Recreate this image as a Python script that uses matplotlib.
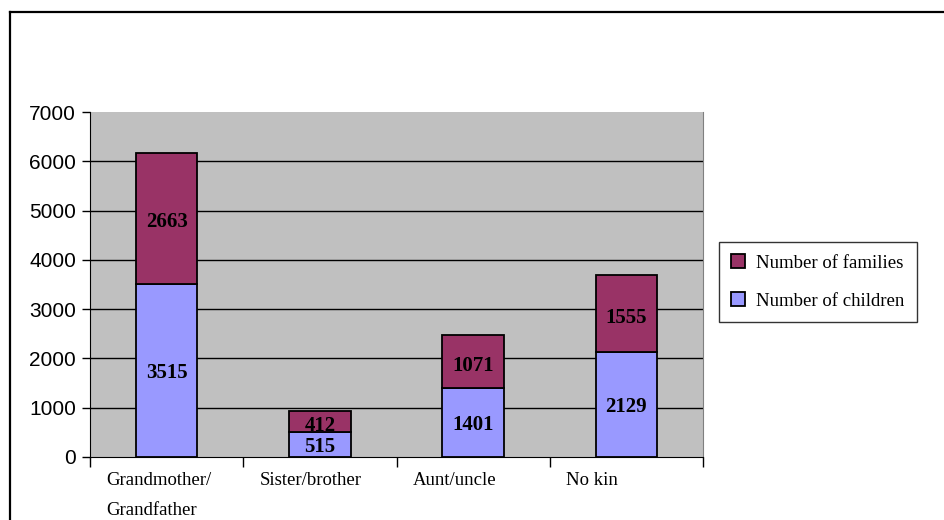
import matplotlib.pyplot as plt
import numpy as np

categories = ["Grandmother/\nGrandfather", "Sister/brother", "Aunt/uncle", "No kin"]
children = [3515, 515, 1401, 2129]
families = [2663, 412, 1071, 1555]
yticks = list(range(0, 7001, 1000))

fig = plt.figure(figsize=(9.44, 5.2), dpi=100)
# outer chart frame (clipped at right/bottom like the original)
fig.add_artist(plt.Line2D([9.5 / 944, 1.0], [1 - 12 / 520] * 2, color="black", lw=1.6))
fig.add_artist(plt.Line2D([9.5 / 944] * 2, [0, 1 - 12 / 520], color="black", lw=1.6))

ax = fig.add_axes([90 / 944, 1 - 457 / 520, 613 / 944, 345 / 520])
ax.set_facecolor("#c0c0c0")

x = np.arange(len(categories))
w = 0.4
b1 = ax.bar(x, children, w, color="#9999ff", edgecolor="black", lw=1.3,
            label="Number of children", zorder=3)
b2 = ax.bar(x, families, w, bottom=children, color="#993366", edgecolor="black",
            lw=1.3, label="Number of families", zorder=3)

lab = dict(fontfamily="Liberation Serif", fontweight="bold", fontsize=15,
           ha="center", va="center", zorder=4)
for i in range(len(x)):
    # Excel puts the value labels a touch below the segment middle
    ax.annotate(str(children[i]), xy=(x[i], children[i] / 2),
                xytext=(0, -2), textcoords="offset points", **lab)
    ax.annotate(str(families[i]), xy=(x[i], children[i] + families[i] / 2),
                xytext=(0, -3), textcoords="offset points", **lab)

ax.set_xlim(-0.5, 3.5)
ax.set_ylim(0, 7000)
ax.set_yticks(yticks)
ax.set_yticklabels([str(v) for v in yticks], fontfamily="Liberation Sans", fontsize=15)
for v in yticks[1:-1]:
    ax.axhline(v, color="black", lw=1, zorder=1)

ax.set_xticks(np.arange(-0.5, 4, 1))
ax.set_xticklabels([])
ax.tick_params(axis="x", length=7, width=1)
ax.tick_params(axis="y", length=6, width=1, pad=4)

# category labels sit left-aligned within each category slot
for i, c in enumerate(categories):
    ax.annotate(c, xy=(i - 0.5, 0), xycoords=("data", "axes fraction"),
                xytext=(12, -11), textcoords="offset points",
                ha="left", va="top", fontfamily="Liberation Serif",
                fontsize=13.5, linespacing=1.95)

ax.spines["left"].set_color("black")
ax.spines["bottom"].set_color("black")
ax.spines["top"].set_visible(False)
ax.spines["right"].set_color("#808080")

leg = fig.legend(handles=[b2, b1], loc="upper left",
                 bbox_to_anchor=(719 / 944, 1 - 242 / 520),
                 prop={"family": "Liberation Serif", "size": 13.5},
                 frameon=True, fancybox=False, edgecolor="black",
                 handlelength=0.75, handleheight=0.75, handletextpad=0.6,
                 labelspacing=1.1, borderpad=0.65, borderaxespad=0)
leg.get_frame().set_linewidth(1)

fig.savefig("out.png", dpi=100)
